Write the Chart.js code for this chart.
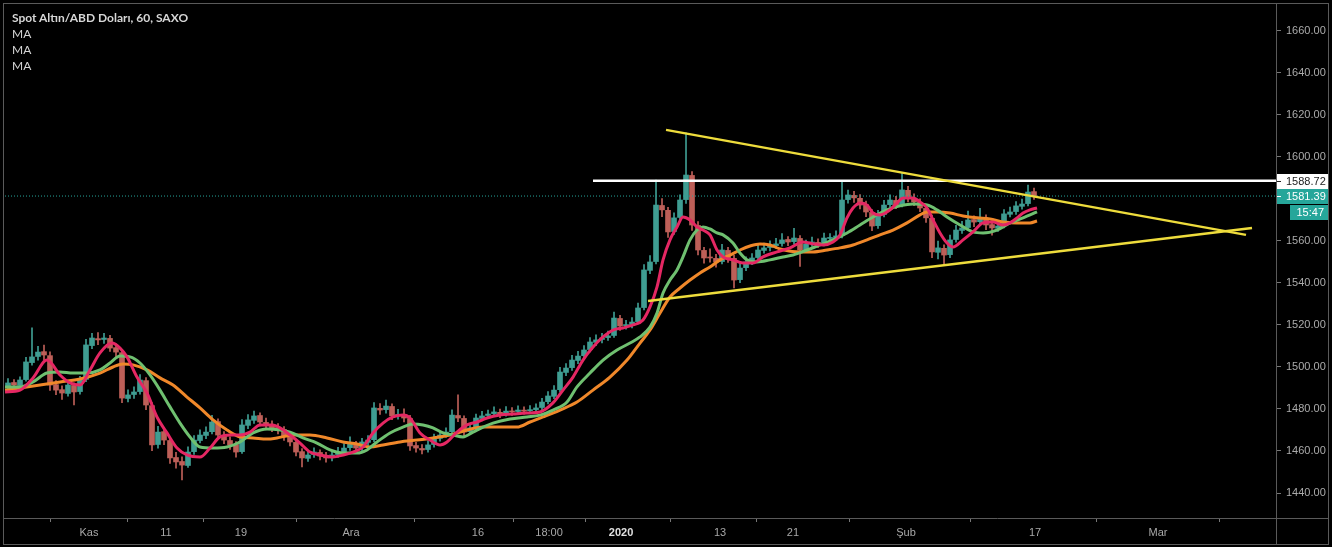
<!DOCTYPE html>
<html>
<head>
<meta charset="utf-8">
<script src="https://cdn.jsdelivr.net/npm/chart.js@4.4.1/dist/chart.umd.min.js"></script>
<style>
  html, body { margin: 0; padding: 0; background: #000; }
  #wrap { position: relative; width: 1332px; height: 547px; }
  #legend {
    position: absolute; left: 12px; top: 10px;
    font-family: Lato, 'Open Sans', sans-serif; font-size: 12px; line-height: 16px;
    color: #d6d6d6; pointer-events: none;
  }
  #legend .title { font-weight: bold; }
</style>
</head>
<body>
<div id="wrap">
  <canvas id="chart"></canvas>
  <div id="legend">
    <div class="title">Spot Altın/ABD Doları, 60, SAXO</div>
    <div>MA</div>
    <div>MA</div>
    <div>MA</div>
  </div>
</div>
<script>
// candles, one every half trading day (x = bar index)
const opens = [1490.8,1492.6,1491.2,1494.0,1502.1,1505.0,1507.3,1505.4,1491.6,1489.2,
  1487.4,1491.2,1488.3,1494.1,1510.2,1513.5,1513.1,1513.6,1509.2,1506.8,
  1485.0,1486.9,1488.3,1493.5,1481.6,1463.1,1469.2,1465.0,1456.9,1455.0,
  1453.1,1459.7,1465.0,1467.4,1469.2,1474.0,1467.4,1465.0,1463.1,1459.7,
  1472.2,1474.6,1476.9,1473.6,1472.6,1471.2,1470.2,1467.3,1464.1,1459.7,
  1456.5,1458.3,1459.3,1457.8,1456.9,1458.3,1459.7,1461.6,1463.1,1461.6,
  1464.1,1465.4,1480.3,1479.7,1481.2,1476.9,1477.3,1475.5,1462.6,1461.2,
  1460.7,1463.1,1466.0,1467.8,1469.2,1476.9,1475.5,1469.2,1471.2,1475.5,
  1476.9,1477.8,1478.4,1477.8,1478.8,1478.8,1479.3,1479.2,1479.7,1480.7,
  1483.5,1486.0,1489.2,1497.4,1499.7,1503.1,1505.4,1508.3,1511.7,1513.1,
  1514.0,1515.0,1523.1,1519.7,1520.2,1521.6,1528.3,1546.0,1550.2,1576.9,
  1574.6,1564.5,1571.2,1579.7,1591.2,1567.4,1555.5,1552.1,1551.7,1550.2,
  1555.5,1551.7,1541.6,1547.3,1550.2,1552.1,1555.5,1556.9,1557.8,1558.8,
  1560.7,1559.7,1561.2,1555.9,1558.8,1559.3,1558.8,1561.2,1561.6,1562.6,
  1579.7,1581.7,1580.3,1577.3,1573.6,1567.3,1572.6,1577.3,1579.3,1577.3,
  1584.1,1580.3,1578.4,1575.5,1570.8,1554.6,1556.5,1553.5,1560.7,1565.0,
  1566.4,1570.2,1569.2,1570.8,1567.8,1566.0,1567.3,1572.7,1574.0,1576.5,
  1577.8,1583.5];
const highs = [1494.5,1494.0,1495.3,1504.6,1518.6,1509.8,1510.4,1507.2,1493.5,1491.0,
  1493.2,1492.5,1495.6,1513.2,1516.0,1516.4,1516.0,1515.1,1511.0,1508.3,
  1489.1,1490.6,1496.4,1495.0,1483.0,1471.8,1470.5,1466.3,1459.4,1457.2,
  1462.0,1467.3,1470.1,1471.5,1477.0,1475.3,1469.2,1466.8,1464.5,1475.0,
  1477.3,1479.0,1478.2,1475.7,1474.4,1473.0,1471.6,1468.5,1465.7,1461.2,
  1460.3,1461.5,1460.6,1459.4,1460.2,1461.7,1463.5,1466.8,1464.6,1466.0,
  1467.4,1483.0,1482.6,1484.3,1482.5,1479.8,1480.1,1477.0,1464.1,1463.0,
  1464.8,1468.0,1469.4,1471.0,1479.6,1486.7,1476.8,1473.0,1477.6,1478.9,
  1479.5,1481.0,1480.0,1481.2,1480.7,1481.5,1481.0,1481.6,1482.4,1485.1,
  1488.3,1491.2,1499.8,1501.6,1505.5,1507.4,1510.2,1514.0,1515.3,1516.0,
  1517.1,1526.2,1524.6,1522.2,1523.5,1530.4,1548.7,1553.1,1589.0,1580.2,
  1576.0,1573.4,1582.0,1611.5,1593.0,1569.2,1557.0,1556.3,1553.6,1558.4,
  1557.0,1553.2,1549.3,1552.4,1554.0,1557.9,1559.0,1560.1,1561.2,1563.5,
  1562.1,1566.0,1562.6,1560.4,1561.9,1561.0,1563.7,1563.5,1564.8,1588.5,
  1584.2,1583.6,1582.1,1579.0,1575.0,1574.6,1579.3,1582.0,1581.2,1592.4,
  1586.0,1582.4,1580.1,1577.2,1572.3,1560.0,1558.2,1562.8,1567.5,1569.3,
  1574.2,1572.0,1575.5,1572.4,1569.5,1569.4,1575.0,1576.1,1578.8,1579.9,
  1586.6,1585.2];
const lows = [1489.6,1489.8,1490.1,1493.2,1500.9,1503.2,1503.5,1488.9,1486.8,1484.6,
  1486.1,1481.9,1487.0,1493.0,1508.7,1510.6,1511.2,1507.4,1504.9,1483.0,
  1483.4,1485.0,1487.1,1479.7,1460.1,1461.4,1463.0,1454.1,1451.8,1446.2,
  1452.2,1458.4,1463.8,1465.9,1468.1,1466.0,1463.5,1460.7,1457.1,1458.8,
  1470.6,1473.1,1471.9,1470.5,1469.2,1468.1,1465.0,1462.4,1457.6,1452.4,
  1455.0,1456.9,1455.8,1454.7,1455.3,1457.0,1458.2,1460.3,1459.4,1460.2,
  1462.6,1464.5,1477.4,1478.0,1474.9,1475.2,1473.8,1460.3,1459.5,1458.6,
  1459.4,1461.8,1464.7,1466.5,1468.3,1474.0,1467.2,1467.9,1470.1,1474.3,
  1475.6,1476.4,1475.9,1476.6,1476.9,1477.4,1477.5,1477.9,1478.6,1479.6,
  1482.4,1484.9,1488.1,1495.9,1498.4,1501.6,1504.0,1507.2,1510.1,1511.5,
  1512.6,1514.1,1517.4,1518.0,1518.6,1520.5,1527.2,1544.4,1549.1,1571.6,
  1561.7,1563.1,1569.8,1577.9,1565.0,1553.3,1549.4,1549.9,1547.5,1549.1,
  1549.8,1537.6,1540.2,1545.8,1548.7,1550.8,1554.2,1555.3,1556.4,1557.5,
  1557.8,1558.5,1547.9,1554.5,1557.4,1556.8,1557.6,1559.6,1560.2,1561.5,
  1578.0,1578.4,1575.2,1571.6,1564.9,1566.0,1571.5,1576.0,1575.4,1576.2,
  1578.6,1576.8,1573.9,1568.8,1552.0,1551.5,1548.3,1552.1,1559.4,1563.6,
  1565.1,1566.8,1568.0,1565.4,1562.8,1564.5,1566.2,1571.4,1572.6,1575.1,
  1576.7,1579.8];
const closes = [1492.4,1491.4,1493.8,1502.4,1504.8,1507.1,1505.7,1491.4,1489.0,1487.6,
  1491.4,1488.1,1493.8,1510.5,1513.8,1512.9,1513.8,1509.0,1507.1,1485.2,
  1486.7,1488.1,1493.8,1481.9,1462.9,1469.0,1465.2,1456.7,1454.8,1453.3,
  1459.5,1465.2,1467.6,1469.0,1473.8,1467.6,1465.2,1462.9,1459.5,1472.4,
  1474.8,1476.7,1473.8,1472.4,1471.0,1470.0,1467.1,1464.3,1459.5,1456.7,
  1458.1,1459.5,1457.6,1456.7,1458.1,1459.5,1461.4,1463.3,1461.4,1464.3,
  1465.2,1480.5,1479.5,1481.4,1476.7,1477.1,1475.7,1462.4,1461.4,1460.5,
  1462.9,1466.2,1467.6,1469.0,1477.1,1475.7,1469.0,1471.0,1475.7,1476.7,
  1477.6,1478.6,1477.6,1479.0,1478.6,1479.5,1479.0,1479.5,1480.5,1483.3,
  1486.2,1489.0,1497.6,1499.5,1503.3,1505.2,1508.1,1511.9,1512.9,1513.8,
  1514.8,1523.3,1519.5,1520.0,1521.4,1528.1,1546.2,1550.0,1577.1,1574.8,
  1564.3,1571.0,1579.5,1591.4,1567.6,1555.7,1551.9,1551.9,1550.0,1555.7,
  1551.9,1541.4,1547.1,1550.0,1551.9,1555.7,1556.7,1557.6,1558.6,1560.5,
  1559.5,1561.4,1555.7,1558.6,1559.5,1558.6,1561.4,1561.4,1562.4,1579.5,
  1581.9,1580.5,1577.1,1573.8,1567.1,1572.4,1577.1,1579.5,1577.1,1584.3,
  1580.5,1578.6,1575.7,1571.0,1554.8,1556.7,1553.3,1560.5,1565.2,1566.2,
  1570.0,1569.0,1571.0,1567.6,1566.2,1567.1,1572.9,1573.8,1576.7,1577.6,
  1583.3,1581.39];

// moving averages: [bar index, price]
const maFast = [[-0.5,1488.1],[2,1489.0],[4.17,1494.8],[6.5,1503.3],[8.67,1496.2],[10.33,1492.4],[12,1491.4],
  [13.67,1498.6],[15.33,1506.7],[17.33,1511.4],[18.67,1509.0],[19.83,1504.8],[21.5,1495.2],[23.17,1487.6],
  [24.83,1476.2],[26.5,1468.6],[28.17,1461.4],[29.83,1458.1],[32,1457.1],[33.67,1461.4],[35.33,1466.7],
  [37,1467.6],[38.67,1467.6],[40.33,1469.0],[42,1472.4],[44.17,1472.4],[45.33,1471.0],[47,1467.6],
  [48.67,1463.8],[50.33,1459.5],[52,1458.1],[54.17,1457.1],[55.83,1458.1],[57.5,1459.5],[59.17,1461.9],
  [60.83,1468.6],[62.5,1473.3],[64.17,1476.2],[65.83,1477.1],[67,1475.7],[68.67,1468.6],[70.33,1465.2],
  [72,1462.9],[73.17,1464.3],[74.83,1469.0],[76.5,1472.4],[78.17,1473.8],[79.83,1475.7],[82,1477.1],
  [84.17,1477.6],[86.5,1478.1],[88.67,1478.6],[90.83,1482.9],[92.5,1489.0],[94.17,1495.2],[95.83,1503.3],
  [97.5,1509.5],[99.17,1514.3],[100.83,1517.6],[102.5,1518.6],[104.17,1520.0],[105.83,1522.4],[107,1528.6],
  [108.17,1538.1],[109.17,1551.0],[110.33,1560.5],[111.5,1566.7],[112.5,1571.4],[113.67,1570.0],[114.83,1566.7],
  [115.83,1565.2],[117,1562.9],[118.17,1555.7],[119.17,1552.4],[120.83,1551.0],[122.5,1549.5],[124.17,1549.5],
  [125.83,1552.4],[128.17,1554.8],[130.33,1556.7],[132.5,1559.5],[134.17,1558.6],[135.83,1558.1],[137.5,1559.5],
  [138.67,1562.9],[139.83,1571.0],[140.83,1575.7],[142,1578.1],[143.17,1577.1],[144.17,1573.3],[145.33,1572.4],
  [147,1574.8],[148.17,1578.1],[149.17,1580.5],[150.83,1580.5],[152,1578.6],[153.17,1575.7],[154.17,1570.0],
  [155.33,1563.8],[156.5,1559.0],[157.5,1557.1],[159.17,1560.5],[160.83,1564.3],[162.5,1568.6],[164.17,1569.0],
  [165.83,1567.6],[167,1568.6],[168.17,1571.0],[169.17,1573.3],[170.33,1574.8],[171.5,1575.7]];
const maMid = [[-0.5,1490.5],[2,1490.5],[4.17,1492.9],[6.5,1497.1],[8.67,1497.6],[10.83,1497.1],[13.17,1497.1],
  [15.33,1498.6],[17,1501.9],[18.67,1505.2],[20.33,1504.8],[22,1501.9],[23.67,1496.2],[25.33,1489.0],
  [27,1481.0],[28.67,1473.3],[30.33,1466.7],[32,1461.9],[34.17,1461.4],[36.5,1461.9],[38.67,1464.3],
  [40.83,1468.6],[43.17,1470.5],[47,1469.0],[49.17,1466.2],[51.5,1463.8],[53.67,1460.5],[55.83,1459.0],
  [58.17,1459.0],[59.83,1460.5],[61.5,1464.3],[63.67,1468.6],[65.83,1471.4],[67.5,1472.9],[69.17,1472.4],
  [70.83,1471.0],[72.5,1468.6],[74.17,1467.6],[75.83,1466.7],[77.5,1469.0],[79.17,1471.4],[80.83,1473.3],
  [83.67,1475.2],[86.5,1476.2],[88.67,1477.1],[90.83,1479.5],[93.17,1483.3],[94.83,1490.5],[97,1497.1],
  [99.17,1503.3],[101.5,1508.1],[103.67,1511.4],[105.33,1514.3],[107,1519.0],[108.17,1525.7],[109.17,1535.2],
  [110.33,1541.4],[111.5,1546.2],[112.5,1552.4],[113.67,1560.5],[114.83,1565.2],[115.83,1566.7],[117,1565.7],
  [118.17,1563.8],[119.17,1562.9],[120.83,1559.0],[122,1554.3],[123.17,1551.0],[124.83,1550.0],[127,1551.0],
  [129.17,1552.4],[130.83,1553.3],[133.17,1555.7],[135.33,1558.1],[137.5,1560.5],[139.83,1563.8],[142,1567.6],
  [144.17,1571.4],[146.5,1574.8],[148.67,1576.7],[150.83,1577.6],[153.17,1577.1],[154.83,1574.8],[156.5,1571.4],
  [158.67,1567.6],[160.83,1564.3],[162.5,1563.8],[164.83,1565.2],[167,1568.6],[169.17,1571.0],[171.5,1573.8]];
const maSlow = [[-0.5,1489.0],[2,1490.0],[5.33,1491.4],[8.67,1492.9],[12,1494.3],[15.33,1497.1],[17.5,1500.0],
  [19.17,1501.4],[20.83,1501.0],[23.17,1498.6],[25.33,1494.8],[27.5,1491.4],[29.83,1485.7],[32,1480.5],
  [34.17,1474.8],[36.5,1470.0],[38.67,1466.7],[40.83,1466.2],[43.17,1465.7],[44.83,1466.2],[47.5,1467.6],
  [50.33,1467.6],[53.17,1466.2],[55.83,1464.3],[58.17,1463.3],[60.33,1461.9],[62.5,1462.9],[65.33,1464.3],
  [68.17,1465.2],[70.83,1466.2],[73.67,1467.6],[76.5,1470.0],[79.17,1471.4],[82,1471.4],[84.83,1471.4],
  [87,1473.8],[89.17,1476.2],[92,1479.5],[94.83,1483.3],[97.5,1489.0],[100.33,1495.2],[103.17,1503.3],
  [105.33,1511.4],[107,1517.6],[108.67,1525.7],[110.33,1533.3],[112,1537.6],[113.67,1541.4],[115.33,1544.8],
  [117,1547.6],[118.67,1551.0],[120.33,1553.3],[122,1555.7],[123.67,1557.6],[125.33,1558.6],[127,1558.1],
  [128.67,1556.2],[132,1554.8],[134.17,1554.8],[136.5,1555.7],[138.67,1556.7],[140.83,1558.1],[143.17,1560.5],
  [145.33,1562.9],[147.5,1565.2],[149.83,1568.6],[152,1572.4],[153.17,1573.8],[154.83,1573.8],[157,1573.3],
  [159.17,1571.9],[161.5,1571.0],[163.67,1570.5],[165.83,1569.0],[168.17,1568.6],[170.33,1568.6],[171.5,1569.5]];

// drawn lines
const upperTrend = [[109.67,1612.9],[206.33,1562.9]];
const lowerTrend = [[106.67,1531.4],[207.33,1566.2]];
const resistance = 1588.72;
const resistanceStart = 97.5;
const lastClose = 1581.39;
const lastTime = '15:47';

// axes
const xTickPos = [13.5,26.33,38.83,57.17,78.33,90.17,102.17,118.67,130.83,149.67,171.17,191.67];
const xTickLabels = ['Kas','11','19','Ara','16','18:00','2020','13','21','Şub','17','Mar'];
const yTicks = [1440,1460,1480,1500,1520,1540,1560,1580,1600,1620,1640,1660];
const xMin = -0.5, xMax = 211.33;
const yMin = 1428.1, yMax = 1673.3;

const UP = '#3f9d92';
const DOWN = '#bd5f58';
const AXIS_FONT = "'Liberation Sans Narrow', 'Liberation Sans', sans-serif";

const toPts = arr => arr.map(p => ({x: p[0], y: p[1]}));
const candleColor = c => closes[c.dataIndex] >= opens[c.dataIndex] ? UP : DOWN;

// no extra room for edge labels, the plot must fill its box
const noEdgePadding = s => {
  s.paddingTop = 0; s.paddingBottom = 0; s.paddingLeft = 0; s.paddingRight = 0;
};

const framePlugin = {
  id: 'frame',
  beforeDraw(chart) {
    const ctx = chart.ctx;
    ctx.save();
    ctx.fillStyle = '#000';
    ctx.fillRect(0, 0, chart.width, chart.height);
    ctx.restore();
  },
  afterDraw(chart) {
    const {ctx, chartArea: a, scales: {y}} = chart;
    ctx.save();
    ctx.strokeStyle = '#5a5a5a';
    ctx.lineWidth = 1;
    ctx.strokeRect(3.5, 3.5, 1325, 541);
    ctx.beginPath();
    ctx.moveTo(Math.round(a.right) + 0.5, 3);
    ctx.lineTo(Math.round(a.right) + 0.5, 545);
    ctx.moveTo(3, Math.round(a.bottom) + 0.5);
    ctx.lineTo(1329, Math.round(a.bottom) + 0.5);
    ctx.stroke();

    // price tags on the axis
    ctx.font = '11px ' + AXIS_FONT;
    ctx.textBaseline = 'middle';
    const ry = Math.round(y.getPixelForValue(resistance));
    ctx.fillStyle = '#ffffff';
    ctx.fillRect(a.right + 1, ry - 7, 51, 15);
    ctx.fillStyle = '#222';
    ctx.fillRect(a.right + 1, ry, 4, 1);
    ctx.fillText(resistance.toFixed(2), a.right + 10, ry + 1);

    const ly = Math.round(y.getPixelForValue(lastClose));
    ctx.fillStyle = '#26a69a';
    ctx.fillRect(a.right + 1, ly - 7, 51, 15);
    ctx.fillRect(a.right + 14, ly + 9, 38, 15);
    ctx.fillStyle = '#ffffff';
    ctx.fillRect(a.right + 1, ly, 4, 1);
    ctx.fillText(lastClose.toFixed(2), a.right + 10, ly + 1);
    ctx.textAlign = 'right';
    ctx.fillText(lastTime, a.right + 48, ly + 17);
    ctx.restore();
  }
};

new Chart(document.getElementById('chart'), {
  type: 'bar',
  data: {
    datasets: [
      {
        label: 'wicks',
        data: closes.map((c, i) => ({x: i, y: [lows[i], highs[i]]})),
        backgroundColor: candleColor,
        barThickness: 1,
        grouped: false,
        order: 20
      },
      {
        label: 'bodies',
        data: closes.map((c, i) => ({x: i, y: [opens[i], c]})),
        backgroundColor: candleColor,
        barThickness: 5,
        minBarLength: 1,
        grouped: false,
        order: 19
      },
      {type: 'line', label: 'MA slow', data: toPts(maSlow), borderColor: '#f0882a', borderWidth: 3,
        pointRadius: 0, cubicInterpolationMode: 'monotone', order: 8},
      {type: 'line', label: 'MA mid', data: toPts(maMid), borderColor: '#6fc070', borderWidth: 3,
        pointRadius: 0, cubicInterpolationMode: 'monotone', order: 7},
      {type: 'line', label: 'MA fast', data: toPts(maFast), borderColor: '#e52763', borderWidth: 3,
        pointRadius: 0, cubicInterpolationMode: 'monotone', order: 6},
      {type: 'line', label: 'last', data: [{x: xMin, y: lastClose}, {x: xMax, y: lastClose}],
        borderColor: '#26a69a', borderWidth: 1, borderDash: [1, 2], pointRadius: 0, order: 5},
      {type: 'line', label: 'resistance', data: [{x: resistanceStart, y: resistance}, {x: xMax, y: resistance}],
        borderColor: '#ffffff', borderWidth: 2.5, pointRadius: 0, order: 3},
      {type: 'line', label: 'upper', data: toPts(upperTrend), borderColor: '#eedc3c', borderWidth: 2.5,
        pointRadius: 0, order: 2},
      {type: 'line', label: 'lower', data: toPts(lowerTrend), borderColor: '#eedc3c', borderWidth: 2.5,
        pointRadius: 0, order: 1}
    ]
  },
  options: {
    responsive: true,
    maintainAspectRatio: false,
    animation: false,
    events: [],
    layout: {padding: {left: 5, top: 3, right: 0, bottom: 0}},
    plugins: {legend: {display: false}, tooltip: {enabled: false}},
    scales: {
      x: {
        type: 'linear',
        min: xMin,
        max: xMax,
        offset: false,
        border: {display: false},
        grid: {drawOnChartArea: false, drawTicks: true, tickLength: 4, tickColor: '#777'},
        ticks: {
          autoSkip: false,
          maxRotation: 0,
          padding: 4,
          color: c => (c.tick && c.tick.label === '2020') ? '#e0e0e0' : '#a8a8a8',
          font: c => ({family: AXIS_FONT, size: 11, weight: (c.tick && c.tick.label === '2020') ? 'bold' : 'normal'}),
          callback: (v, i) => xTickLabels[i]
        },
        afterBuildTicks: s => { s.ticks = xTickPos.map(v => ({value: v})); },
        afterFit: s => { s.height = 29; noEdgePadding(s); }
      },
      y: {
        position: 'right',
        min: yMin,
        max: yMax,
        border: {display: false},
        grid: {drawOnChartArea: false, drawTicks: true, tickLength: 5, tickColor: '#777'},
        ticks: {
          padding: 5,
          color: '#ababab',
          font: {family: AXIS_FONT, size: 11},
          callback: v => v.toFixed(2)
        },
        afterBuildTicks: s => { s.ticks = yTicks.map(v => ({value: v})); },
        afterFit: s => { s.width = 56; noEdgePadding(s); }
      }
    }
  },
  plugins: [framePlugin]
});
</script>
</body>
</html>
